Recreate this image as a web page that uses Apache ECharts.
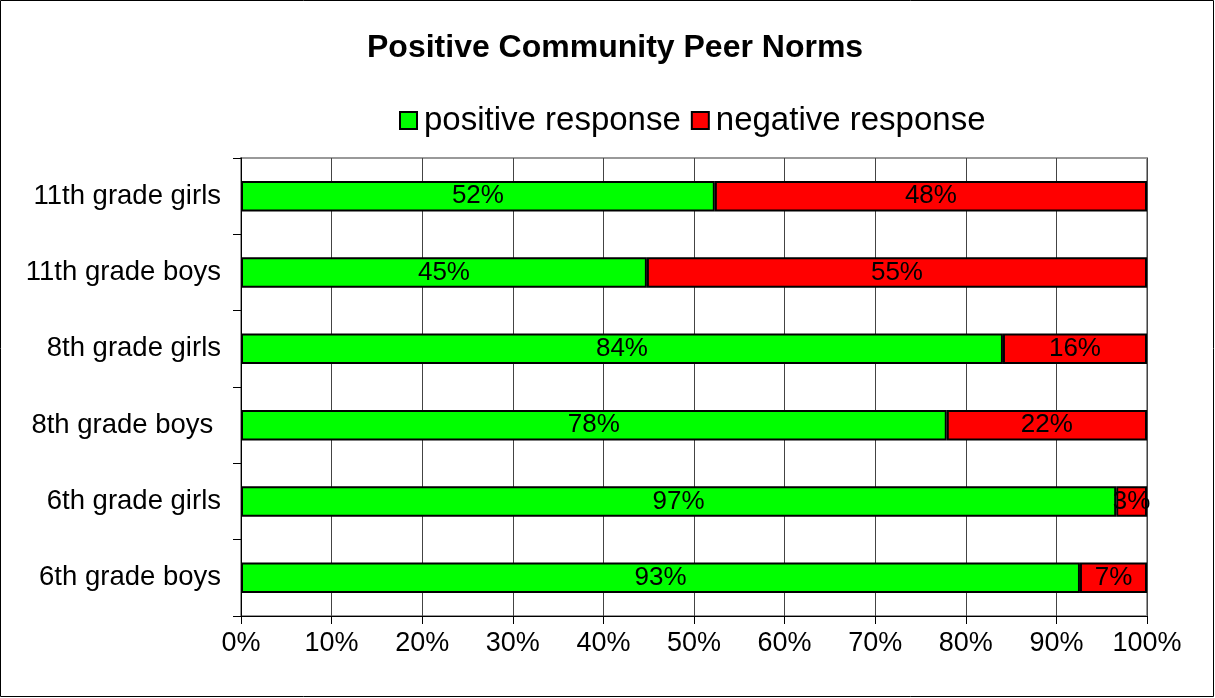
<!DOCTYPE html>
<html>
<head>
<meta charset="utf-8">
<script src="https://cdn.jsdelivr.net/npm/echarts@6/dist/echarts.min.js"></script>
<style>html,body{margin:0;padding:0;background:#fff}#c{width:1215px;height:698px}</style>
</head>
<body>
<div id="c"></div>
<script>
const categories = ['6th grade boys', '6th grade girls', '8th grade boys ', '8th grade girls', '11th grade boys', '11th grade girls'];
const positiveValues = [92.6, 96.6, 77.9, 84.1, 44.8, 52.3];
const negativeValues = [7.4, 3.4, 22.1, 15.9, 55.2, 47.7];
const xTickLabels = ['0%','10%','20%','30%','40%','50%','60%','70%','80%','90%','100%'];

const FONT = '"Liberation Sans", Arial, sans-serif';
const chart = echarts.init(document.getElementById('c'));
const labelOpt = {
  show: true, position: 'inside', color: '#000', fontFamily: FONT, fontSize: 26,
  formatter: p => Math.round(p.value) + '%'
};
chart.setOption({
  animation: false,
  backgroundColor: '#fff',
  title: {
    text: 'Positive Community Peer Norms',
    left: 362, top: 27,
    textStyle: { fontFamily: FONT, fontWeight: 'bold', fontSize: 32, color: '#000' }
  },
  legend: {
    left: 394, top: 99,
    itemWidth: 17, itemHeight: 17, itemGap: 10,
    icon: 'rect',
    itemStyle: { borderColor: '#000', borderWidth: 2 },
    textStyle: { fontFamily: FONT, fontSize: 33, color: '#000', padding: [0,0,0,2] },
    data: ['positive response', 'negative response']
  },
  grid: {
    left: 241, right: 68, top: 158, bottom: 82,
    show: true, borderColor: '#999', borderWidth: 2, containLabel: false
  },
  xAxis: {
    type: 'value', min: 0, max: 100, interval: 10,
    axisLine: { show: true, lineStyle: { color: '#000', width: 1 } },
    axisTick: { show: true, length: 8, lineStyle: { color: '#000' } },
    splitLine: { show: true, lineStyle: { color: '#444', width: 1 } },
    axisLabel: {
      margin: 14, color: '#000', fontFamily: FONT, fontSize: 27,
      formatter: v => xTickLabels[Math.round(v / 10)]
    }
  },
  yAxis: {
    type: 'category', data: categories,
    axisLine: { show: true, lineStyle: { color: '#000', width: 1 } },
    axisTick: { show: true, length: 8, lineStyle: { color: '#000' } },
    splitLine: { show: false },
    axisLabel: { margin: 20, color: '#000', fontFamily: FONT, fontSize: 27.5 }
  },
  series: [
    {
      name: 'positive response', type: 'bar', stack: 'all', barWidth: '40%',
      data: positiveValues,
      itemStyle: { color: '#00ff00', borderColor: '#000', borderWidth: 2 },
      label: labelOpt
    },
    {
      name: 'negative response', type: 'bar', stack: 'all', barWidth: '40%',
      data: negativeValues,
      itemStyle: { color: '#ff0000', borderColor: '#000', borderWidth: 2 },
      label: labelOpt
    }
  ],
  graphic: [{
    type: 'rect', silent: true, z: 100,
    shape: { x: 0.5, y: 0.5, width: 1213, height: 696 },
    style: { fill: 'none', stroke: '#000', lineWidth: 1 }
  }]
});
</script>
</body>
</html>
